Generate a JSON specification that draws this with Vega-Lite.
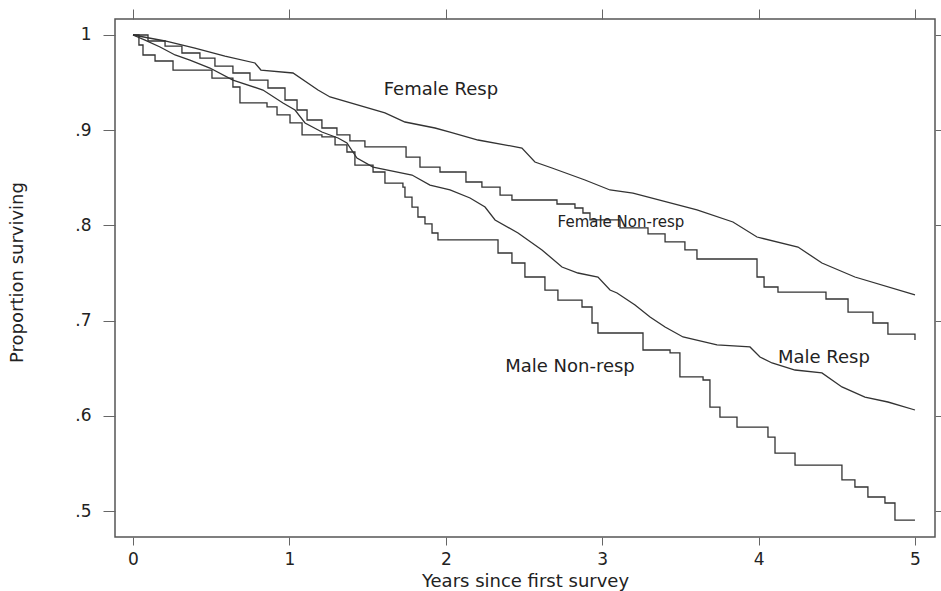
{
  "$schema": "https://vega.github.io/schema/vega-lite/v6.json",
  "autosize": "none",
  "padding": {"left": 115, "top": 19, "right": 6, "bottom": 54},
  "width": 820,
  "height": 518,
  "background": "white",
  "config": {
    "view": {"stroke": "#555555", "strokeWidth": 1.5},
    "font": "DejaVu Sans",
    "axis": {"labelFont": "DejaVu Sans", "titleFont": "DejaVu Sans", "titleFontWeight": "normal", "labelColor": "#222222", "titleColor": "#222222", "tickColor": "#666666", "grid": false, "domain": false}
  },
  "datasets": {
    "km": [
      {"series": "Female Resp", "x": 0, "y": 1.0},
      {"series": "Female Resp", "x": 0.205, "y": 0.9937},
      {"series": "Female Resp", "x": 0.396, "y": 0.9863},
      {"series": "Female Resp", "x": 0.588, "y": 0.9779},
      {"series": "Female Resp", "x": 0.78, "y": 0.9706},
      {"series": "Female Resp", "x": 0.818, "y": 0.9632},
      {"series": "Female Resp", "x": 1.023, "y": 0.9601},
      {"series": "Female Resp", "x": 1.183, "y": 0.9422},
      {"series": "Female Resp", "x": 1.26, "y": 0.9349},
      {"series": "Female Resp", "x": 1.611, "y": 0.9181},
      {"series": "Female Resp", "x": 1.739, "y": 0.9086},
      {"series": "Female Resp", "x": 1.931, "y": 0.9023},
      {"series": "Female Resp", "x": 2.027, "y": 0.8981},
      {"series": "Female Resp", "x": 2.206, "y": 0.8897},
      {"series": "Female Resp", "x": 2.487, "y": 0.8813},
      {"series": "Female Resp", "x": 2.57, "y": 0.8666},
      {"series": "Female Resp", "x": 2.679, "y": 0.8603},
      {"series": "Female Resp", "x": 2.89, "y": 0.8477},
      {"series": "Female Resp", "x": 3.05, "y": 0.8372},
      {"series": "Female Resp", "x": 3.197, "y": 0.834},
      {"series": "Female Resp", "x": 3.606, "y": 0.8162},
      {"series": "Female Resp", "x": 3.836, "y": 0.8036},
      {"series": "Female Resp", "x": 3.99, "y": 0.7878},
      {"series": "Female Resp", "x": 4.252, "y": 0.7773},
      {"series": "Female Resp", "x": 4.405, "y": 0.7605},
      {"series": "Female Resp", "x": 4.616, "y": 0.7458},
      {"series": "Female Resp", "x": 5.0, "y": 0.7269},

      {"series": "Male Resp", "x": 0, "y": 1.0},
      {"series": "Male Resp", "x": 0.077, "y": 0.9947},
      {"series": "Male Resp", "x": 0.173, "y": 0.9874},
      {"series": "Male Resp", "x": 0.269, "y": 0.979},
      {"series": "Male Resp", "x": 0.364, "y": 0.9737},
      {"series": "Male Resp", "x": 0.492, "y": 0.9653},
      {"series": "Male Resp", "x": 0.639, "y": 0.9527},
      {"series": "Male Resp", "x": 0.831, "y": 0.9422},
      {"series": "Male Resp", "x": 0.959, "y": 0.9286},
      {"series": "Male Resp", "x": 1.036, "y": 0.9212},
      {"series": "Male Resp", "x": 1.1, "y": 0.9076},
      {"series": "Male Resp", "x": 1.208, "y": 0.8981},
      {"series": "Male Resp", "x": 1.311, "y": 0.8918},
      {"series": "Male Resp", "x": 1.368, "y": 0.8866},
      {"series": "Male Resp", "x": 1.432, "y": 0.8708},
      {"series": "Male Resp", "x": 1.535, "y": 0.8613},
      {"series": "Male Resp", "x": 1.784, "y": 0.8529},
      {"series": "Male Resp", "x": 1.899, "y": 0.8424},
      {"series": "Male Resp", "x": 2.027, "y": 0.8372},
      {"series": "Male Resp", "x": 2.155, "y": 0.8288},
      {"series": "Male Resp", "x": 2.251, "y": 0.8193},
      {"series": "Male Resp", "x": 2.315, "y": 0.8057},
      {"series": "Male Resp", "x": 2.462, "y": 0.792},
      {"series": "Male Resp", "x": 2.615, "y": 0.7742},
      {"series": "Male Resp", "x": 2.743, "y": 0.7563},
      {"series": "Male Resp", "x": 2.845, "y": 0.75},
      {"series": "Male Resp", "x": 2.973, "y": 0.7458},
      {"series": "Male Resp", "x": 3.05, "y": 0.7321},
      {"series": "Male Resp", "x": 3.095, "y": 0.729},
      {"series": "Male Resp", "x": 3.21, "y": 0.7164},
      {"series": "Male Resp", "x": 3.306, "y": 0.7038},
      {"series": "Male Resp", "x": 3.402, "y": 0.6933},
      {"series": "Male Resp", "x": 3.517, "y": 0.6828},
      {"series": "Male Resp", "x": 3.734, "y": 0.6744},
      {"series": "Male Resp", "x": 3.945, "y": 0.6723},
      {"series": "Male Resp", "x": 4.009, "y": 0.6618},
      {"series": "Male Resp", "x": 4.086, "y": 0.6555},
      {"series": "Male Resp", "x": 4.233, "y": 0.6481},
      {"series": "Male Resp", "x": 4.405, "y": 0.645},
      {"series": "Male Resp", "x": 4.533, "y": 0.6303},
      {"series": "Male Resp", "x": 4.68, "y": 0.6197},
      {"series": "Male Resp", "x": 4.827, "y": 0.6145},
      {"series": "Male Resp", "x": 5.0, "y": 0.6061},

      {"series": "Female Non-resp", "x": 0, "y": 1.0},
      {"series": "Female Non-resp", "x": 0.096, "y": 0.9937},
      {"series": "Female Non-resp", "x": 0.205, "y": 0.9884},
      {"series": "Female Non-resp", "x": 0.313, "y": 0.9811},
      {"series": "Female Non-resp", "x": 0.428, "y": 0.9758},
      {"series": "Female Non-resp", "x": 0.524, "y": 0.9674},
      {"series": "Female Non-resp", "x": 0.639, "y": 0.9601},
      {"series": "Female Non-resp", "x": 0.748, "y": 0.9527},
      {"series": "Female Non-resp", "x": 0.863, "y": 0.9443},
      {"series": "Female Non-resp", "x": 0.972, "y": 0.9317},
      {"series": "Female Non-resp", "x": 1.049, "y": 0.9212},
      {"series": "Female Non-resp", "x": 1.113, "y": 0.9107},
      {"series": "Female Non-resp", "x": 1.208, "y": 0.9023},
      {"series": "Female Non-resp", "x": 1.304, "y": 0.895},
      {"series": "Female Non-resp", "x": 1.387, "y": 0.8887},
      {"series": "Female Non-resp", "x": 1.483, "y": 0.8824},
      {"series": "Female Non-resp", "x": 1.746, "y": 0.8718},
      {"series": "Female Non-resp", "x": 1.835, "y": 0.8613},
      {"series": "Female Non-resp", "x": 1.963, "y": 0.8561},
      {"series": "Female Non-resp", "x": 2.129, "y": 0.8456},
      {"series": "Female Non-resp", "x": 2.231, "y": 0.8403},
      {"series": "Female Non-resp", "x": 2.347, "y": 0.8319},
      {"series": "Female Non-resp", "x": 2.423, "y": 0.8267},
      {"series": "Female Non-resp", "x": 2.711, "y": 0.8225},
      {"series": "Female Non-resp", "x": 2.826, "y": 0.8183},
      {"series": "Female Non-resp", "x": 2.877, "y": 0.813},
      {"series": "Female Non-resp", "x": 2.922, "y": 0.8057},
      {"series": "Female Non-resp", "x": 3.114, "y": 0.7973},
      {"series": "Female Non-resp", "x": 3.293, "y": 0.791},
      {"series": "Female Non-resp", "x": 3.402, "y": 0.7826},
      {"series": "Female Non-resp", "x": 3.529, "y": 0.7742},
      {"series": "Female Non-resp", "x": 3.606, "y": 0.7647},
      {"series": "Female Non-resp", "x": 3.99, "y": 0.7458},
      {"series": "Female Non-resp", "x": 4.035, "y": 0.7353},
      {"series": "Female Non-resp", "x": 4.124, "y": 0.73},
      {"series": "Female Non-resp", "x": 4.431, "y": 0.7227},
      {"series": "Female Non-resp", "x": 4.572, "y": 0.709},
      {"series": "Female Non-resp", "x": 4.731, "y": 0.6975},
      {"series": "Female Non-resp", "x": 4.827, "y": 0.6859},
      {"series": "Female Non-resp", "x": 5.0, "y": 0.6796},

      {"series": "Male Non-resp", "x": 0, "y": 1.0},
      {"series": "Male Non-resp", "x": 0.038, "y": 0.9895},
      {"series": "Male Non-resp", "x": 0.064, "y": 0.979},
      {"series": "Male Non-resp", "x": 0.141, "y": 0.9727},
      {"series": "Male Non-resp", "x": 0.256, "y": 0.9632},
      {"series": "Male Non-resp", "x": 0.505, "y": 0.9548},
      {"series": "Male Non-resp", "x": 0.639, "y": 0.9454},
      {"series": "Male Non-resp", "x": 0.684, "y": 0.9286},
      {"series": "Male Non-resp", "x": 0.857, "y": 0.9244},
      {"series": "Male Non-resp", "x": 0.921, "y": 0.916},
      {"series": "Male Non-resp", "x": 1.004, "y": 0.9076},
      {"series": "Male Non-resp", "x": 1.081, "y": 0.895},
      {"series": "Male Non-resp", "x": 1.208, "y": 0.8929},
      {"series": "Male Non-resp", "x": 1.292, "y": 0.8845},
      {"series": "Male Non-resp", "x": 1.368, "y": 0.8771},
      {"series": "Male Non-resp", "x": 1.419, "y": 0.8634},
      {"series": "Male Non-resp", "x": 1.535, "y": 0.8561},
      {"series": "Male Non-resp", "x": 1.611, "y": 0.8445},
      {"series": "Male Non-resp", "x": 1.726, "y": 0.8403},
      {"series": "Male Non-resp", "x": 1.739, "y": 0.8298},
      {"series": "Male Non-resp", "x": 1.784, "y": 0.8193},
      {"series": "Male Non-resp", "x": 1.822, "y": 0.8088},
      {"series": "Male Non-resp", "x": 1.867, "y": 0.8015},
      {"series": "Male Non-resp", "x": 1.912, "y": 0.792},
      {"series": "Male Non-resp", "x": 1.95, "y": 0.7847},
      {"series": "Male Non-resp", "x": 2.334, "y": 0.771},
      {"series": "Male Non-resp", "x": 2.423, "y": 0.7605},
      {"series": "Male Non-resp", "x": 2.506, "y": 0.7458},
      {"series": "Male Non-resp", "x": 2.634, "y": 0.7321},
      {"series": "Male Non-resp", "x": 2.717, "y": 0.7216},
      {"series": "Male Non-resp", "x": 2.871, "y": 0.7143},
      {"series": "Male Non-resp", "x": 2.935, "y": 0.6975},
      {"series": "Male Non-resp", "x": 2.973, "y": 0.687},
      {"series": "Male Non-resp", "x": 3.261, "y": 0.6691},
      {"series": "Male Non-resp", "x": 3.434, "y": 0.666},
      {"series": "Male Non-resp", "x": 3.497, "y": 0.6408},
      {"series": "Male Non-resp", "x": 3.645, "y": 0.6376},
      {"series": "Male Non-resp", "x": 3.689, "y": 0.6092},
      {"series": "Male Non-resp", "x": 3.753, "y": 0.5987},
      {"series": "Male Non-resp", "x": 3.862, "y": 0.5882},
      {"series": "Male Non-resp", "x": 4.06, "y": 0.5777},
      {"series": "Male Non-resp", "x": 4.105, "y": 0.5609},
      {"series": "Male Non-resp", "x": 4.233, "y": 0.5483},
      {"series": "Male Non-resp", "x": 4.533, "y": 0.5326},
      {"series": "Male Non-resp", "x": 4.616, "y": 0.5252},
      {"series": "Male Non-resp", "x": 4.699, "y": 0.5147},
      {"series": "Male Non-resp", "x": 4.808, "y": 0.5084},
      {"series": "Male Non-resp", "x": 4.872, "y": 0.4905},
      {"series": "Male Non-resp", "x": 5.0, "y": 0.4905}
    ],
    "labels": [
      {"label": "Female Resp", "x": 1.969, "y": 0.9422, "group": "big"},
      {"label": "Male Non-resp", "x": 2.794, "y": 0.6513, "group": "big"},
      {"label": "Male Resp", "x": 4.418, "y": 0.6607, "group": "big"},
      {"label": "Female Non-resp", "x": 3.12, "y": 0.8036, "group": "small"}
    ]
  },
  "resolve": {"axis": {"x": "independent", "y": "independent"}},
  "layer": [
    {
      "data": {"name": "km"},
      "transform": [{"filter": "indexof(datum.series, 'Non-resp') >= 0"}],
      "mark": {"type": "line", "interpolate": "step-after", "color": "#333333", "strokeWidth": 1.3},
      "encoding": {
        "x": {"field": "x", "type": "quantitative",
          "scale": {"domain": [-0.115, 5.128], "nice": false, "zero": false},
          "axis": {"orient": "bottom", "values": [0, 1, 2, 3, 4, 5], "format": "d", "tickSize": 8, "labelFontSize": 17, "labelPadding": 6,
            "title": "Years since first survey", "titleFontSize": 18, "titleX": 410, "titleY": 49, "titleBaseline": "alphabetic", "titleAlign": "center"}},
        "y": {"field": "y", "type": "quantitative",
          "scale": {"domain": [0.4727, 1.0168], "nice": false, "zero": false},
          "axis": {"orient": "left", "values": [0.5, 0.6, 0.7, 0.8, 0.9, 1.0],
            "labelExpr": "datum.value >= 0.999 ? '1' : replace(format(datum.value, '.1f'), '0.', '.')",
            "tickSize": 12, "labelFontSize": 17, "labelPadding": 12,
            "title": "Proportion surviving", "titleFontSize": 18, "titleX": -98, "titleY": 253, "titleAngle": -90, "titleBaseline": "middle", "titleAlign": "center"}},
        "detail": {"field": "series"}
      }
    },
    {
      "data": {"name": "km"},
      "transform": [{"filter": "indexof(datum.series, 'Non-resp') < 0"}],
      "mark": {"type": "line", "interpolate": "linear", "color": "#333333", "strokeWidth": 1.3},
      "encoding": {
        "x": {"field": "x", "type": "quantitative",
          "axis": {"orient": "top", "values": [0, 1, 2, 3, 4, 5], "tickSize": 10, "labels": false, "title": null}},
        "y": {"field": "y", "type": "quantitative",
          "axis": {"orient": "right", "values": [0.5, 0.6, 0.7, 0.8, 0.9, 1.0], "tickSize": 6, "labels": false, "title": null}},
        "detail": {"field": "series"}
      }
    },
    {
      "data": {"name": "labels"},
      "transform": [{"filter": "datum.group == 'big'"}],
      "mark": {"type": "text", "font": "DejaVu Sans", "fontSize": 18, "color": "#222222", "align": "center", "baseline": "middle"},
      "encoding": {
        "x": {"field": "x", "type": "quantitative", "axis": null},
        "y": {"field": "y", "type": "quantitative", "axis": null},
        "text": {"field": "label"}
      }
    },
    {
      "data": {"name": "labels"},
      "transform": [{"filter": "datum.group == 'small'"}],
      "mark": {"type": "text", "font": "DejaVu Sans", "fontSize": 15, "color": "#222222", "align": "center", "baseline": "middle"},
      "encoding": {
        "x": {"field": "x", "type": "quantitative", "axis": null},
        "y": {"field": "y", "type": "quantitative", "axis": null},
        "text": {"field": "label"}
      }
    }
  ]
}
